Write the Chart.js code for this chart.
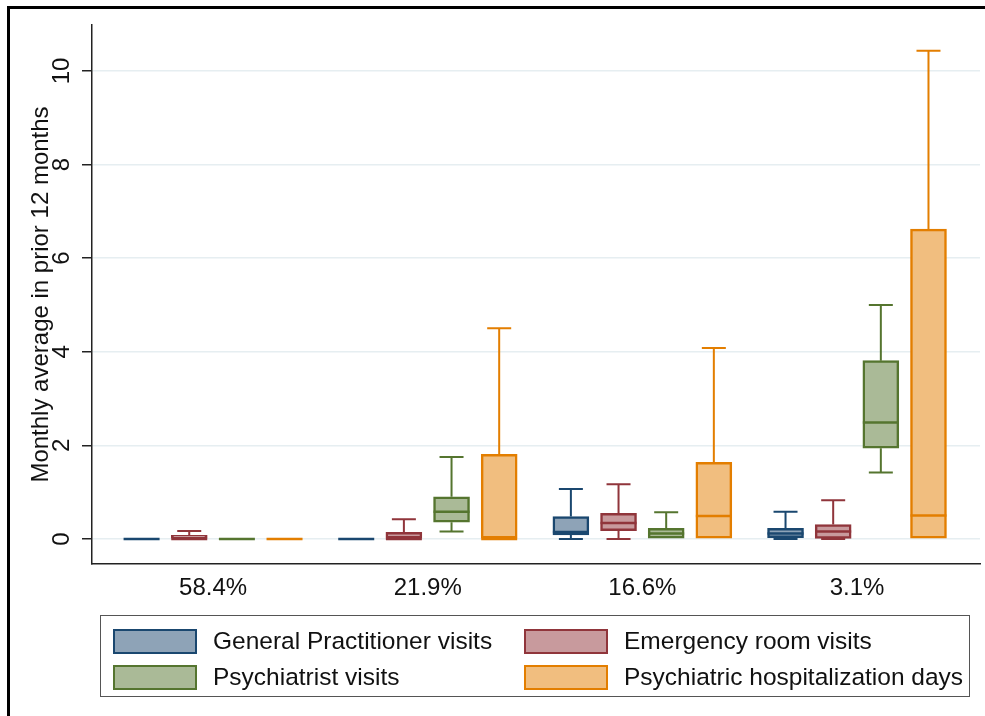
<!DOCTYPE html>
<html>
<head>
<meta charset="utf-8">
<script src="https://cdn.jsdelivr.net/npm/chart.js@4/dist/chart.umd.min.js"></script>
<style>
  html, body { margin: 0; padding: 0; background: #fff; }
  #wrap { position: relative; width: 985px; height: 716px; font-family: "Liberation Sans", Arial, sans-serif; }
  #frame { position: absolute; left: 7px; top: 6px; right: -5px; bottom: -5px; border-top: 3px solid #000; border-left: 3px solid #000; pointer-events: none; }
  #legend { position: absolute; left: 100px; top: 615px; width: 868px; height: 80px; border: 1.5px solid #555; box-sizing: content-box; }
  .item { position: absolute; display: flex; align-items: center; font-size: 24.5px; color: #111; white-space: nowrap; }
  .sw { width: 80px; height: 21px; border: 2.5px solid; margin-right: 16px; }
</style>
</head>
<body>
<div id="wrap">
  <canvas id="mycanvas" width="985" height="716"></canvas>
  <div id="frame"></div>
  <div id="legend"></div>
</div>
<script>
// group labels (share of sample)
var categories = ['58.4%', '21.9%', '16.6%', '3.1%'];

// box stats per group: [min, q1, median, q3, max]
var gpVisits   = [[0, 0, 0, 0, 0], [0, 0, 0, 0, 0], [0, 0.085, 0.15, 0.48, 1.07], [0, 0.03, 0.12, 0.23, 0.58]];
var erVisits   = [[0, 0, 0, 0.08, 0.17], [0, 0, 0, 0.14, 0.42], [0, 0.18, 0.34, 0.55, 1.17], [0, 0.01, 0.16, 0.31, 0.83]];
var psyVisits  = [[0, 0, 0, 0, 0], [0.16, 0.36, 0.58, 0.90, 1.75], [0, 0, 0.12, 0.23, 0.57], [1.42, 1.94, 2.49, 3.81, 5.0]];
var hospDays   = [[0, 0, 0, 0, 0], [0, 0, 0, 1.81, 4.50], [0, 0, 0.49, 1.64, 4.08], [0, 0, 0.50, 6.62, 10.43]];

var yTicks = [0, 2, 4, 6, 8, 10];

var series = [
    { label: 'General Practitioner visits', stats: gpVisits, line: 'rgb(26,71,111)', fill: 'rgb(142,163,183)' },
    { label: 'Emergency room visits', stats: erVisits, line: 'rgb(144,53,59)', fill: 'rgb(200,154,157)' },
    { label: 'Psychiatrist visits', stats: psyVisits, line: 'rgb(85,117,47)', fill: 'rgb(170,186,151)' },
    { label: 'Psychiatric hospitalization days', stats: hospDays, line: 'rgb(227,126,0)', fill: 'rgb(241,190,127)' }
];

var FONT = '"Liberation Sans", Arial, sans-serif';
var SLOT = 0.222;   // distance between boxes inside a group, in group units

var datasets = series.map(function(s, k) {
    return {
        label: s.label,
        stats: s.stats,
        data: s.stats.map(function(b, g) {
            return { x: g + (k - 1.5) * SLOT, y: [b[1], b[3]] };
        }),
        backgroundColor: s.fill,
        borderColor: s.line,
        borderWidth: 2.5,
        borderSkipped: false,
        barThickness: 36,
        grouped: false
    };
});

// whiskers + median drawn on top of the boxes
var boxPlugin = {
    id: 'boxParts',
    afterDatasetsDraw: function(chart) {
        var ctx = chart.ctx;
        var ys = chart.scales.y;
        chart.data.datasets.forEach(function(ds, i) {
            var meta = chart.getDatasetMeta(i);
            meta.data.forEach(function(el, j) {
                var b = ds.stats[j];
                var half = el.width / 2;
                var cap = 12;
                ctx.save();
                ctx.strokeStyle = ds.borderColor;
                ctx.lineCap = 'butt';
                ctx.lineWidth = 2;
                if (b[4] > b[3]) {
                    ctx.beginPath();
                    ctx.moveTo(el.x, ys.getPixelForValue(b[3]));
                    ctx.lineTo(el.x, ys.getPixelForValue(b[4]));
                    ctx.moveTo(el.x - cap, ys.getPixelForValue(b[4]));
                    ctx.lineTo(el.x + cap, ys.getPixelForValue(b[4]));
                    ctx.stroke();
                }
                if (b[0] < b[1]) {
                    ctx.beginPath();
                    ctx.moveTo(el.x, ys.getPixelForValue(b[1]));
                    ctx.lineTo(el.x, ys.getPixelForValue(b[0]));
                    ctx.moveTo(el.x - cap, ys.getPixelForValue(b[0]));
                    ctx.lineTo(el.x + cap, ys.getPixelForValue(b[0]));
                    ctx.stroke();
                }
                ctx.lineWidth = 2.5;
                ctx.beginPath();
                ctx.moveTo(el.x - half, ys.getPixelForValue(b[2]));
                ctx.lineTo(el.x + half, ys.getPixelForValue(b[2]));
                ctx.stroke();
                ctx.restore();
            });
        });
    }
};

var ctx = document.getElementById('mycanvas');
var chart = new Chart(ctx, {
    type: 'bar',
    data: { datasets: datasets },
    plugins: [boxPlugin],
    options: {
        responsive: false,
        animation: false,
        layout: { padding: { left: 0, top: 25, right: 5, bottom: 112 } },
        plugins: { legend: { display: false }, tooltip: { enabled: false } },
        scales: {
            x: {
                type: 'linear',
                offset: false,
                min: -0.564,
                max: 3.573,
                afterBuildTicks: function(scale) {
                    scale.ticks = categories.map(function(c, i) { return { value: i }; });
                },
                afterFit: function(scale) { scale.height = 40; },
                grid: { drawOnChartArea: false, drawTicks: false, offset: false },
                border: { display: true, color: '#222', width: 1.5 },
                ticks: {
                    padding: 10,
                    color: '#111',
                    font: { family: FONT, size: 24 },
                    callback: function(v) { return categories[v]; }
                }
            },
            y: {
                min: -0.534,
                max: 10.98,
                afterBuildTicks: function(scale) {
                    scale.ticks = yTicks.map(function(v) { return { value: v }; });
                },
                afterFit: function(scale) { scale.width = 92; },
                grid: { color: '#e6eef1', lineWidth: 1.5, tickColor: '#222', tickLength: 10, tickWidth: 1.5 },
                border: { display: true, color: '#222', width: 1.5 },
                ticks: {
                    minRotation: 90,
                    maxRotation: 90,
                    crossAlign: 'center',
                    padding: 6,
                    color: '#111',
                    font: { family: FONT, size: 24 }
                },
                title: {
                    display: true,
                    text: 'Monthly average in prior 12 months',
                    color: '#111',
                    font: { family: FONT, size: 24 },
                    padding: { top: 27, bottom: 0 }
                }
            }
        }
    }
});

// legend box in two columns, like the original
var pos = [[12, 11], [423, 11], [12, 47], [423, 47]];
var leg = document.getElementById('legend');
series.forEach(function(s, k) {
    var it = document.createElement('div');
    it.className = 'item';
    it.style.left = pos[k][0] + 'px';
    it.style.top = pos[k][1] + 'px';
    var sw = document.createElement('div');
    sw.className = 'sw';
    sw.style.background = s.fill;
    sw.style.borderColor = s.line;
    var tx = document.createElement('span');
    tx.textContent = s.label;
    it.appendChild(sw);
    it.appendChild(tx);
    leg.appendChild(it);
});
</script>
</body>
</html>
